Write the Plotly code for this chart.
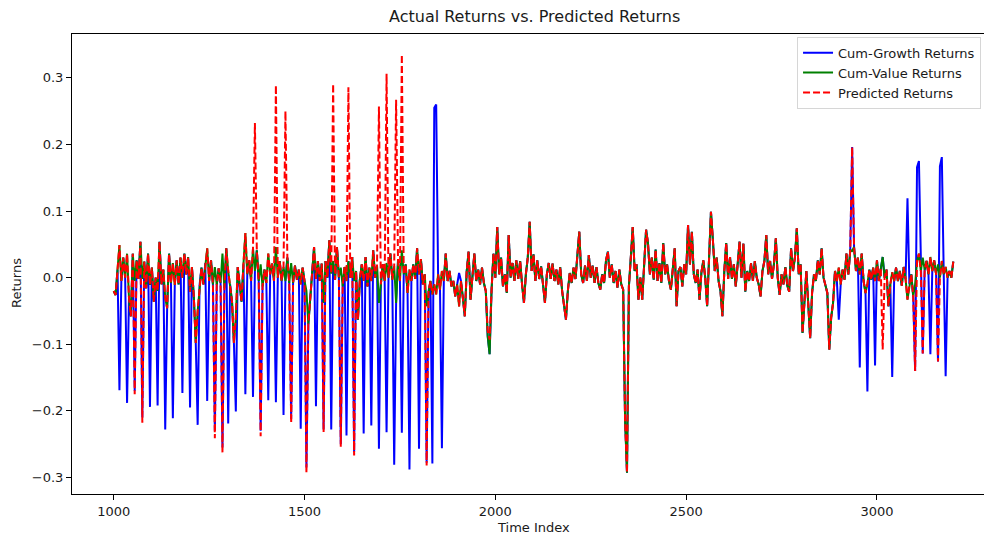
import plotly.graph_objects as go

# Time index of the test window (one sample every 5 steps)
time_index = list(range(1000, 3201, 5))

# Cumulative value-factor returns
value_returns = [
    -0.020, -0.026, 0.012, 0.049, -0.005, 0.030, 0.000, 0.036, -0.030, -0.058,   # 1000
    0.036, -0.005, 0.026, -0.002, 0.054, -0.002, 0.024, -0.016, 0.036, -0.011,   # 1050
    0.015, -0.036, 0.000, -0.020, 0.054, -0.010, 0.012, -0.030, -0.046, 0.036,   # 1100
    -0.008, 0.022, -0.011, 0.026, -0.010, 0.030, 0.000, 0.036, 0.005, 0.031,     # 1150
    -0.021, 0.016, -0.030, -0.098, -0.050, -0.011, 0.015, -0.010, 0.022, 0.044,  # 1200
    -0.005, 0.026, -0.010, 0.016, -0.011, 0.014, -0.008, 0.036, -0.016, 0.044,   # 1250
    0.010, -0.010, -0.036, -0.098, -0.060, 0.016, -0.012, -0.036, 0.020, 0.067,  # 1300
    0.005, 0.026, -0.005, 0.044, 0.010, 0.041, -0.005, 0.020, -0.013, 0.012,     # 1350
    -0.008, 0.036, 0.005, 0.021, -0.005, 0.046, 0.000, 0.025, -0.005, 0.016,     # 1400
    -0.005, 0.030, -0.008, 0.022, -0.008, 0.018, -0.003, 0.012, -0.010, 0.015,   # 1450
    -0.005, -0.020, -0.070, -0.030, 0.010, 0.046, -0.002, 0.025, -0.005, 0.021,  # 1500
    -0.038, 0.025, 0.000, 0.056, 0.006, 0.025, -0.003, 0.046, 0.000, 0.015,      # 1550
    -0.013, 0.016, -0.005, 0.025, 0.000, 0.031, -0.005, 0.010, -0.063, -0.003,   # 1600
    0.020, -0.005, 0.031, -0.013, 0.015, -0.005, 0.041, 0.000, 0.018, -0.038,    # 1650
    -0.010, 0.020, -0.005, 0.022, 0.000, 0.036, -0.003, 0.017, -0.038, 0.026,    # 1700
    -0.005, 0.041, 0.005, 0.020, -0.023, 0.012, -0.005, 0.020, -0.002, 0.044,    # 1750
    0.005, 0.028, -0.010, 0.005, -0.043, -0.020, -0.005, -0.025, -0.010, -0.025,  # 1800
    0.005, -0.018, 0.010, -0.005, 0.036, -0.005, 0.010, -0.013, -0.005, -0.028,  # 1850
    -0.010, -0.043, -0.005, -0.030, -0.058, 0.010, 0.039, -0.033, 0.000, 0.036,  # 1900
    -0.005, 0.012, -0.010, 0.015, -0.008, -0.020, -0.088, -0.115, -0.020, 0.036,  # 1950
    0.000, 0.076, 0.005, 0.030, -0.013, 0.005, -0.023, 0.064, 0.000, 0.022,      # 2000
    -0.005, 0.026, -0.002, 0.025, -0.010, -0.038, 0.005, 0.030, 0.084, 0.010,    # 2050
    0.035, -0.005, 0.026, -0.002, 0.017, -0.010, -0.038, 0.005, 0.022, -0.002,   # 2100
    0.021, -0.005, 0.012, -0.010, 0.016, -0.020, -0.043, -0.063, -0.020, 0.007,  # 2150
    -0.008, 0.015, -0.002, 0.042, 0.069, 0.005, -0.008, 0.018, -0.005, 0.034,    # 2200
    0.000, 0.018, -0.008, 0.016, -0.008, -0.018, 0.005, -0.008, 0.026, 0.039,    # 2250
    0.000, 0.020, -0.008, 0.010, -0.015, 0.012, -0.010, -0.018, -0.213, -0.293,  # 2300
    -0.013, 0.030, 0.076, 0.010, 0.020, -0.033, 0.000, -0.033, 0.020, 0.072,     # 2350
    0.052, 0.005, 0.030, -0.003, 0.042, -0.005, 0.022, -0.008, 0.052, 0.005,     # 2400
    0.020, -0.005, -0.018, 0.020, 0.044, -0.043, 0.010, 0.016, -0.013, 0.020,    # 2450
    0.005, 0.079, 0.020, 0.069, 0.005, -0.008, 0.012, -0.033, 0.008, 0.026,      # 2500
    0.000, -0.043, 0.020, 0.099, 0.057, 0.010, 0.030, -0.005, -0.020, -0.058,    # 2550
    0.010, 0.052, -0.002, 0.031, -0.002, 0.020, -0.013, 0.025, 0.054, 0.000,     # 2600
    0.051, -0.021, 0.010, -0.005, 0.022, -0.005, 0.025, 0.000, -0.010, -0.028,   # 2650
    0.010, 0.025, 0.064, 0.005, 0.025, -0.002, 0.020, 0.059, 0.000, -0.026,      # 2700
    0.005, -0.010, 0.016, -0.012, -0.021, 0.044, 0.010, 0.030, 0.074, 0.005,     # 2750
    0.020, -0.083, -0.030, 0.010, -0.040, -0.091, -0.023, 0.005, -0.005, 0.026,  # 2800
    0.005, 0.044, 0.000, -0.010, -0.023, -0.108, -0.060, -0.038, 0.010, -0.005,  # 2850
    0.015, -0.010, 0.012, -0.003, 0.036, 0.005, 0.041, 0.040, 0.046, 0.010,      # 2900
    0.030, 0.005, 0.036, -0.005, -0.023, -0.010, 0.012, -0.003, 0.015, -0.005,   # 2950
    0.026, -0.005, 0.015, 0.031, 0.000, 0.012, -0.043, -0.010, 0.008, -0.005,    # 3000
    0.015, -0.005, 0.010, -0.012, 0.016, -0.002, -0.033, -0.010, 0.005, -0.028,  # 3050
    -0.010, 0.025, 0.036, 0.010, 0.030, 0.012, 0.025, 0.005, 0.031, 0.010,       # 3100
    0.026, 0.005, 0.020, 0.000, 0.025, 0.005, 0.016, 0.000, 0.010, 0.000,        # 3150
    0.024,                                                                       # 3200
]

# Cumulative growth-factor returns
growth_returns = [
    -0.020, -0.026, 0.012, -0.169, -0.005, 0.030, 0.000, -0.188, -0.030, -0.058,  # 1000
    0.036, -0.170, 0.026, -0.002, 0.054, -0.210, 0.024, -0.016, 0.036, -0.194,    # 1050
    0.015, -0.036, 0.000, -0.192, 0.054, -0.010, 0.012, -0.228, -0.046, 0.036,    # 1100
    -0.008, -0.211, -0.011, 0.026, -0.010, 0.030, -0.173, 0.036, 0.005, 0.031,    # 1150
    -0.195, 0.016, -0.030, -0.098, -0.221, -0.011, 0.015, -0.010, 0.022, -0.185,  # 1200
    -0.005, 0.026, -0.010, -0.230, -0.011, 0.014, -0.008, -0.255, -0.016, 0.044,  # 1250
    -0.219, -0.010, -0.036, -0.098, -0.201, 0.016, -0.012, -0.036, 0.020, -0.175,  # 1300
    0.005, 0.026, -0.005, -0.179, 0.010, 0.041, -0.005, -0.230, -0.013, 0.012,    # 1350
    -0.008, -0.184, 0.005, 0.021, -0.005, -0.187, 0.000, 0.025, -0.005, -0.206,   # 1400
    -0.005, 0.030, -0.008, -0.212, -0.008, 0.018, -0.003, 0.012, -0.227, 0.015,   # 1450
    -0.005, -0.285, -0.070, -0.030, 0.010, 0.046, -0.193, 0.025, -0.005, 0.021,   # 1500
    -0.228, 0.025, 0.000, 0.056, -0.228, 0.025, -0.003, 0.046, 0.000, -0.250,     # 1550
    -0.013, 0.016, -0.237, 0.025, 0.000, 0.031, -0.262, 0.010, -0.063, -0.003,    # 1600
    0.020, -0.234, 0.031, -0.013, 0.015, -0.222, 0.041, 0.000, 0.018, -0.257,     # 1650
    -0.010, 0.020, -0.005, -0.232, 0.000, 0.036, -0.003, -0.281, -0.038, 0.026,   # 1700
    -0.005, -0.233, 0.005, 0.020, -0.023, -0.288, -0.005, 0.020, -0.002, 0.044,   # 1750
    -0.257, 0.028, -0.010, 0.005, -0.278, -0.020, -0.005, -0.279, 0.255, 0.260,   # 1800
    0.005, -0.018, -0.256, -0.005, 0.036, -0.005, 0.010, -0.013, -0.005, -0.028,  # 1850
    -0.010, 0.007, -0.005, -0.030, -0.058, 0.010, 0.039, -0.033, 0.000, 0.036,    # 1900
    -0.005, 0.012, -0.010, 0.015, -0.008, -0.020, -0.088, -0.115, -0.020, 0.036,  # 1950
    0.000, 0.076, 0.005, 0.030, -0.013, 0.005, -0.023, 0.064, 0.000, 0.022,       # 2000
    -0.005, 0.026, -0.002, 0.025, -0.010, -0.038, 0.005, 0.030, 0.084, 0.010,     # 2050
    0.035, -0.005, 0.026, -0.002, 0.017, -0.010, -0.038, 0.005, 0.022, -0.002,    # 2100
    0.021, -0.005, 0.012, -0.010, 0.016, -0.020, -0.043, -0.063, -0.020, 0.007,   # 2150
    -0.008, 0.015, -0.002, 0.042, 0.069, 0.005, -0.008, 0.018, -0.005, 0.034,     # 2200
    0.000, 0.018, -0.008, 0.016, -0.008, -0.018, 0.005, -0.008, 0.026, 0.039,     # 2250
    0.000, 0.020, -0.008, 0.010, -0.015, 0.012, -0.010, -0.018, -0.213, -0.293,   # 2300
    -0.013, 0.030, 0.076, 0.010, 0.020, -0.033, 0.000, -0.033, 0.020, 0.072,      # 2350
    0.052, 0.005, 0.030, -0.003, 0.042, -0.005, 0.022, -0.008, 0.052, 0.005,      # 2400
    0.020, -0.005, -0.018, 0.020, 0.044, -0.043, 0.010, 0.016, -0.013, 0.020,     # 2450
    0.005, 0.079, 0.020, 0.069, 0.005, -0.008, 0.012, -0.033, 0.008, 0.026,       # 2500
    0.000, -0.043, 0.020, 0.099, 0.057, 0.010, 0.030, -0.005, -0.020, -0.058,     # 2550
    0.010, 0.052, -0.002, 0.031, -0.002, 0.020, -0.013, 0.025, 0.054, 0.000,      # 2600
    0.051, -0.021, 0.010, -0.005, 0.022, -0.005, 0.025, 0.000, -0.010, -0.028,    # 2650
    0.010, 0.025, 0.064, 0.005, 0.025, -0.002, 0.020, 0.059, 0.000, -0.026,       # 2700
    0.005, -0.010, 0.016, -0.012, -0.021, 0.044, 0.010, 0.030, 0.074, 0.005,      # 2750
    0.020, -0.083, -0.030, 0.010, -0.040, -0.091, -0.023, 0.005, -0.005, 0.026,   # 2800
    0.005, 0.044, 0.000, -0.010, -0.023, -0.108, -0.060, -0.038, 0.010, -0.005,   # 2850
    -0.063, -0.010, 0.012, -0.003, 0.036, 0.005, 0.041, 0.196, 0.046, 0.010,      # 2900
    0.030, -0.135, 0.036, -0.005, -0.023, -0.171, 0.012, -0.003, 0.015, -0.132,   # 2950
    0.026, -0.005, 0.015, 0.031, 0.000, 0.012, -0.043, -0.010, -0.149, -0.005,    # 3000
    0.015, -0.005, 0.010, -0.012, 0.016, -0.002, 0.119, -0.010, 0.005, -0.028,    # 3050
    -0.140, 0.166, 0.175, 0.010, -0.114, 0.012, 0.025, 0.005, -0.115, 0.010,      # 3100
    0.026, 0.005, -0.126, 0.167, 0.181, 0.005, -0.148, 0.000, 0.010, 0.000,       # 3150
    0.024,                                                                        # 3200
]

# Model-predicted returns
predicted_returns = [
    -0.020, -0.026, 0.012, 0.049, -0.005, 0.030, 0.000, 0.036, -0.030, -0.058,    # 1000
    0.036, -0.175, 0.026, -0.002, 0.054, -0.218, 0.024, -0.016, 0.036, -0.011,    # 1050
    0.015, -0.036, 0.000, -0.020, 0.054, -0.010, 0.012, -0.030, -0.046, 0.036,    # 1100
    -0.008, 0.022, -0.011, 0.026, -0.010, 0.030, 0.000, 0.036, 0.005, 0.031,      # 1150
    -0.021, 0.016, -0.030, -0.098, -0.050, -0.011, 0.015, -0.010, 0.022, 0.044,   # 1200
    -0.005, 0.026, -0.010, -0.241, -0.011, 0.014, -0.008, -0.263, -0.016, 0.044,  # 1250
    0.010, -0.010, -0.036, -0.098, -0.060, 0.016, -0.012, -0.036, 0.020, 0.067,   # 1300
    0.005, 0.026, -0.005, 0.044, 0.232, 0.041, -0.005, -0.238, -0.013, 0.012,     # 1350
    -0.008, 0.036, 0.005, 0.021, -0.005, 0.289, 0.000, 0.025, -0.005, 0.016,      # 1400
    0.250, 0.030, -0.008, -0.218, -0.008, 0.018, -0.003, 0.012, -0.010, 0.015,    # 1450
    -0.005, -0.293, -0.070, -0.030, 0.010, 0.046, -0.002, 0.025, -0.005, 0.021,   # 1500
    -0.232, 0.025, 0.000, 0.056, 0.006, 0.291, -0.003, 0.046, 0.000, -0.254,      # 1550
    -0.013, 0.016, -0.005, 0.286, 0.000, 0.031, -0.267, 0.010, -0.063, -0.003,    # 1600
    0.020, -0.005, 0.031, -0.013, 0.015, -0.005, 0.041, 0.000, 0.018, 0.257,      # 1650
    -0.010, 0.020, -0.005, 0.306, 0.000, 0.036, -0.003, 0.017, 0.267, 0.026,      # 1700
    -0.005, 0.335, 0.005, 0.020, -0.023, 0.012, -0.005, 0.020, -0.002, 0.044,     # 1750
    0.005, 0.028, -0.010, 0.005, -0.282, -0.020, -0.005, -0.025, -0.010, -0.025,  # 1800
    0.005, -0.018, 0.010, -0.005, 0.036, -0.005, 0.010, -0.013, -0.005, -0.028,   # 1850
    -0.010, -0.043, -0.005, -0.030, -0.058, 0.010, 0.039, -0.033, 0.000, 0.036,   # 1900
    -0.005, 0.012, -0.010, 0.015, -0.008, -0.020, -0.080, -0.093, -0.020, 0.036,  # 1950
    0.000, 0.076, 0.005, 0.030, -0.013, 0.005, -0.023, 0.064, 0.000, 0.022,       # 2000
    -0.005, 0.026, -0.002, 0.025, -0.010, -0.038, 0.005, 0.030, 0.084, 0.010,     # 2050
    0.035, -0.005, 0.026, -0.002, 0.017, -0.010, -0.038, 0.005, 0.022, -0.002,    # 2100
    0.021, -0.005, 0.012, -0.010, 0.016, -0.020, -0.043, -0.063, -0.020, 0.007,   # 2150
    -0.008, 0.015, -0.002, 0.042, 0.069, 0.005, -0.008, 0.018, -0.005, 0.034,     # 2200
    0.000, 0.018, -0.008, 0.016, -0.008, -0.018, 0.005, -0.008, 0.026, 0.039,     # 2250
    0.000, 0.020, -0.008, 0.010, -0.015, 0.012, -0.010, -0.018, -0.213, -0.293,   # 2300
    -0.013, 0.030, 0.076, 0.010, 0.020, -0.033, 0.000, -0.033, 0.020, 0.072,      # 2350
    0.052, 0.005, 0.030, -0.003, 0.042, -0.005, 0.022, -0.008, 0.052, 0.005,      # 2400
    0.020, -0.005, -0.018, 0.020, 0.044, -0.043, 0.010, 0.016, -0.013, 0.020,     # 2450
    0.005, 0.079, 0.020, 0.069, 0.005, -0.008, 0.012, -0.033, 0.008, 0.026,       # 2500
    0.000, -0.043, 0.020, 0.099, 0.057, 0.010, 0.030, -0.005, -0.020, -0.058,     # 2550
    0.010, 0.052, -0.002, 0.031, -0.002, 0.020, -0.013, 0.025, 0.054, 0.000,      # 2600
    0.051, -0.021, 0.010, -0.005, 0.022, -0.005, 0.025, 0.000, -0.010, -0.028,    # 2650
    0.010, 0.025, 0.064, 0.005, 0.025, -0.002, 0.020, 0.059, 0.000, -0.026,       # 2700
    0.005, -0.010, 0.016, -0.012, -0.021, 0.044, 0.010, 0.030, 0.074, 0.005,      # 2750
    0.020, -0.083, -0.030, 0.010, -0.040, -0.091, -0.023, 0.005, -0.005, 0.026,   # 2800
    0.005, 0.044, 0.000, -0.010, -0.023, -0.108, -0.060, -0.038, 0.010, -0.005,   # 2850
    0.015, -0.010, 0.012, -0.003, 0.036, 0.005, 0.041, 0.196, 0.046, 0.010,       # 2900
    0.030, 0.005, 0.036, -0.005, -0.023, -0.010, 0.012, -0.003, 0.015, -0.005,    # 2950
    0.026, -0.005, 0.015, -0.108, 0.000, 0.012, -0.043, -0.010, 0.008, -0.005,    # 3000
    0.015, -0.005, 0.010, -0.012, 0.016, -0.002, -0.033, -0.010, 0.005, -0.028,   # 3050
    -0.140, 0.025, 0.036, 0.010, -0.114, 0.012, 0.025, 0.005, 0.031, 0.010,       # 3100
    0.026, 0.005, -0.126, 0.000, 0.025, 0.005, 0.016, 0.000, 0.010, 0.000,        # 3150
    0.024,                                                                        # 3200
]

x_ticks = [1000, 1500, 2000, 2500, 3000]
y_ticks = [-0.3, -0.2, -0.1, 0.0, 0.1, 0.2, 0.3]

FONT = "DejaVu Sans"
TEXT = "#1a1a1a"

fig = go.Figure()
fig.add_trace(go.Scatter(x=time_index, y=growth_returns, mode="lines",
                         name="Cum-Growth Returns",
                         line=dict(color="#0000ff", width=2)))
fig.add_trace(go.Scatter(x=time_index, y=value_returns, mode="lines",
                         name="Cum-Value Returns",
                         line=dict(color="#008000", width=2)))
fig.add_trace(go.Scatter(x=time_index, y=predicted_returns, mode="lines",
                         name="Predicted Returns",
                         line=dict(color="#ff0000", width=2, dash="7px,3px")))

fig.update_layout(
    width=984, height=535,
    margin=dict(l=72, r=0, t=34, b=41),
    paper_bgcolor="white", plot_bgcolor="white",
    font=dict(family=FONT, size=13, color=TEXT),
    showlegend=True,
    legend=dict(x=0.795, y=0.994, xanchor="left", yanchor="top",
                bgcolor="rgba(255,255,255,0.85)", bordercolor="#d6d6d6",
                borderwidth=1, font=dict(family=FONT, size=13, color=TEXT)),
    xaxis=dict(range=[890.7, 3280.5], tickvals=x_ticks, ticks="outside",
               ticklen=5, tickwidth=1, tickcolor="black",
               showline=True, linecolor="black", linewidth=1, mirror=True,
               showgrid=False, zeroline=False,
               tickfont=dict(family=FONT, size=13, color=TEXT)),
    yaxis=dict(range=[-0.3248, 0.3658], tickvals=y_ticks, tickformat=".1f",
               ticks="outside", ticklen=5, tickwidth=1, tickcolor="black",
               showline=True, linecolor="black", linewidth=1, mirror=False,
               showgrid=False, zeroline=False,
               tickfont=dict(family=FONT, size=13, color=TEXT)),
    annotations=[
        dict(text="Actual Returns vs. Predicted Returns", xref="paper", yref="paper",
             x=0.5066, y=1.037, xanchor="center", yanchor="middle", showarrow=False,
             font=dict(family=FONT, size=16, color=TEXT)),
        dict(text="Time Index", xref="paper", yref="paper",
             x=0.5055, y=-0.0739, xanchor="center", yanchor="middle", showarrow=False,
             font=dict(family=FONT, size=13, color=TEXT)),
        dict(text="Returns", xref="paper", yref="paper", textangle=-90,
             x=-0.0603, y=0.4587, xanchor="center", yanchor="middle", showarrow=False,
             font=dict(family=FONT, size=13, color=TEXT)),
    ],
)

fig.write_html("out.html")
